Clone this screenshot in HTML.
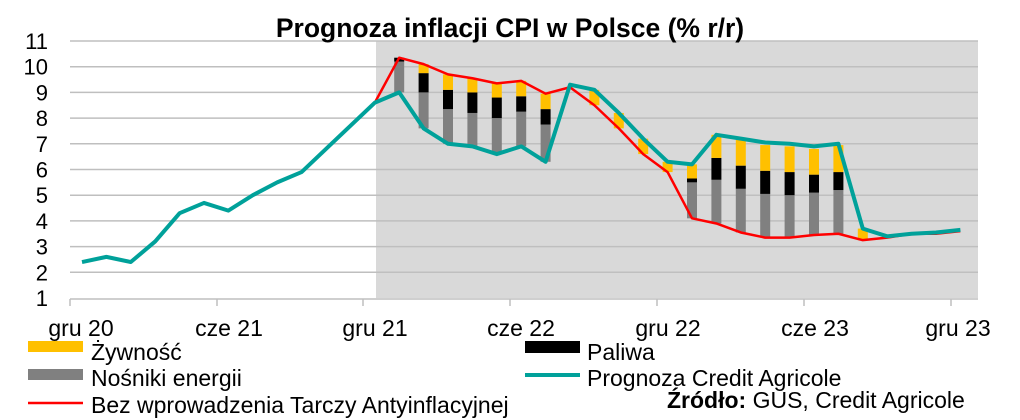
<!DOCTYPE html>
<html><head><meta charset="utf-8"><style>
html,body{margin:0;padding:0;background:#fff;width:1020px;height:420px;overflow:hidden}
svg{display:block;font-family:"Liberation Sans",Arial,sans-serif}
</style></head><body>
<svg id="s" width="1020" height="420" viewBox="0 0 1020 420">
<rect x="0" y="0" width="1020" height="420" fill="#fff"/>
<rect x="376" y="41" width="602" height="257" fill="#d9d9d9"/>
<g id="grid"></g>
<g id="bars"></g>
<g id="lines"></g>
<line x1="70" y1="299" x2="978" y2="299" stroke="#bfbfbf" stroke-width="1.5"/>
<g id="ticks"></g>
<text x="510" y="37" text-anchor="middle" font-size="26.5" font-weight="bold">Prognoza inflacji CPI w Polsce (% r/r)</text>
<g font-size="23">
<text x="81" y="336" text-anchor="middle">gru 20</text>
<text x="229" y="336" text-anchor="middle">cze 21</text>
<text x="375" y="336" text-anchor="middle">gru 21</text>
<text x="521" y="336" text-anchor="middle">cze 22</text>
<text x="668" y="336" text-anchor="middle">gru 22</text>
<text x="815" y="336" text-anchor="middle">cze 23</text>
<text x="958" y="336" text-anchor="middle">gru 23</text>
<rect x="28" y="341" width="55" height="11" fill="#ffc000"/>
<text x="91" y="360">Żywność</text>
<rect x="28" y="369" width="55" height="11" fill="#808080"/>
<text x="91" y="386">Nośniki energii</text>
<line x1="28" y1="403" x2="83" y2="403" stroke="#ff0000" stroke-width="2.5"/>
<text x="91" y="413">Bez wprowadzenia Tarczy Antyinflacyjnej</text>
<rect x="525" y="341" width="55" height="12" fill="#000"/>
<text x="587" y="360">Paliwa</text>
<line x1="525" y1="375" x2="580" y2="375" stroke="#00a19a" stroke-width="4"/>
<text x="587" y="386">Prognoza Credit Agricole</text>
<text x="667" y="408"><tspan font-weight="bold">Źródło:</tspan> GUS, Credit Agricole</text>
</g>
</svg>
<script>
var NS="http://www.w3.org/2000/svg";
function Y(v){return 298-(v-1)*25.7;}
function X(k){return 82+24.4*k;}
function el(p,t,a){var e=document.createElementNS(NS,t);for(var k in a)e.setAttribute(k,a[k]);document.getElementById(p).appendChild(e);return e;}
for(var v=1;v<=11;v++){
 if(v>1)el("grid","line",{x1:70,x2:978,y1:Y(v),y2:Y(v),stroke:"#bfbfbf","stroke-width":1.5});
 var t=el("grid","text",{x:48,y:Y(v)+8,"text-anchor":"end","font-size":22});t.textContent=v;
}
[70,217,363,510,657,804,951].forEach(function(x){el("ticks","line",{x1:x,x2:x,y1:299,y2:306,stroke:"#bfbfbf","stroke-width":1.5});});
var teal=[2.4,2.6,2.4,3.2,4.3,4.7,4.4,5.0,5.5,5.9,6.8,7.7,8.6,9.0,7.6,7.0,6.9,6.6,6.9,6.3,9.3,9.1,8.2,7.2,6.3,6.2,7.35,7.2,7.05,7.0,6.9,7.0,3.7,3.4,3.5,3.55,3.65];
var red={12:8.6,13:10.35,14:10.1,15:9.7,16:9.55,17:9.35,18:9.45,19:8.95,20:9.2,21:8.5,22:7.6,23:6.6,24:5.9,25:4.1,26:3.9,27:3.55,28:3.35,29:3.35,30:3.45,31:3.5,32:3.25,33:3.35,34:3.5,35:3.5,36:3.6};
var bars=[[13,9.0,10.2,10.35,10.35],[14,7.6,9.0,9.75,10.1],[15,7.0,8.35,9.1,9.7],[16,6.9,8.2,9.0,9.55],[17,6.6,8.0,8.8,9.35],[18,6.9,8.25,8.85,9.45],[19,6.3,7.75,8.35,8.95],
[21,8.5,8.5,8.5,9.1],[22,7.6,7.6,7.6,8.2],[23,6.6,6.6,6.6,7.2],[24,5.9,5.9,5.9,6.3],
[25,4.1,5.5,5.65,6.2],[26,3.9,5.6,6.45,7.35],[27,3.55,5.25,6.15,7.15],[28,3.35,5.05,5.95,6.95],[29,3.35,5.0,5.9,6.9],[30,3.45,5.1,5.8,6.8],[31,3.5,5.2,5.9,6.95],[32,3.25,3.25,3.25,3.7]];
bars.forEach(function(b){var x=X(b[0])-5;
 function seg(a,c,col){if(c>a)el("bars","rect",{x:x,width:10,y:Y(c),height:Y(a)-Y(c),fill:col});}
 seg(b[1],b[2],"#808080");seg(b[2],b[3],"#000");seg(b[3],b[4],"#ffc000");});
var pt=teal.map(function(v,k){return X(k)+","+Y(v);}).join(" ");
var pr=Object.keys(red).map(function(k){return X(+k)+","+Y(red[k]);}).join(" ");
el("lines","polyline",{points:pr,fill:"none",stroke:"#ff0000","stroke-width":2.5,"stroke-linejoin":"round"});
el("lines","polyline",{points:pt,fill:"none",stroke:"#00a19a","stroke-width":4,"stroke-linejoin":"round"});
</script>
</body></html>
